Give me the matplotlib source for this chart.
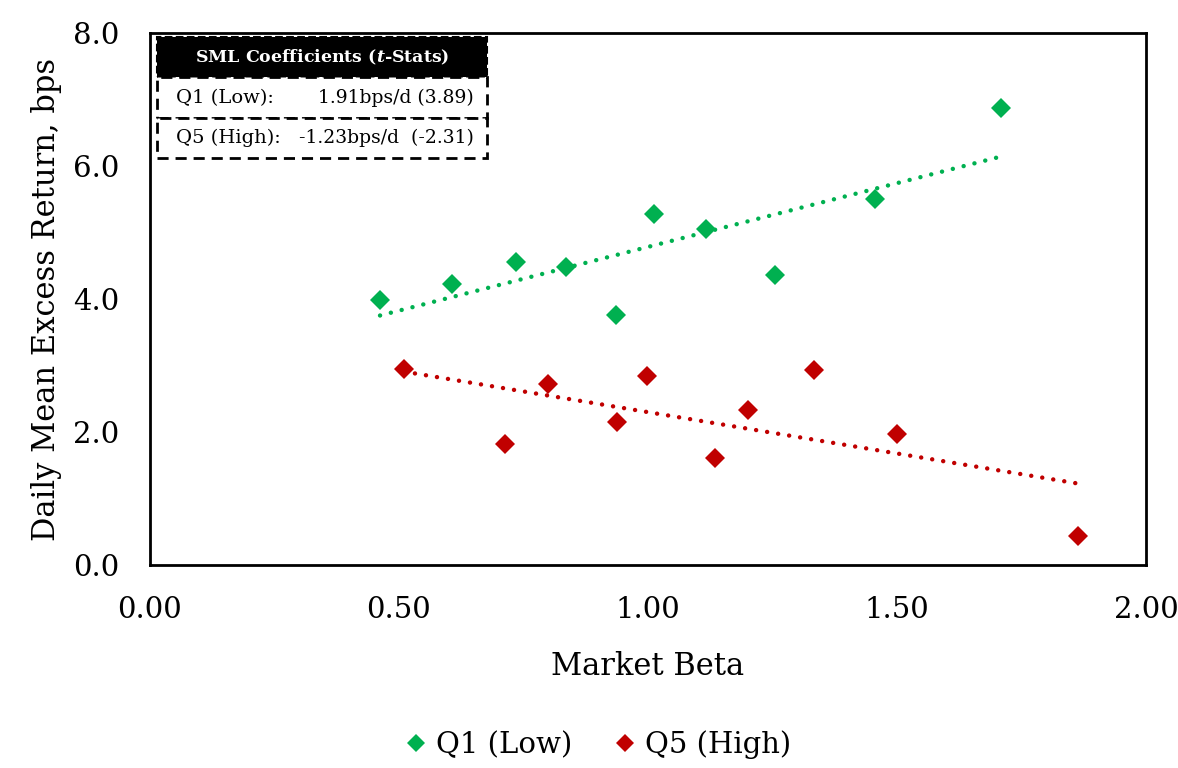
import numpy as np
import matplotlib
matplotlib.use("Agg")
import matplotlib.pyplot as plt
from matplotlib.patches import Rectangle
from matplotlib.lines import Line2D

plt.rcParams['font.family'] = 'DejaVu Serif'
plt.rcParams['mathtext.fontset'] = 'dejavuserif'

# data
q1_beta = [0.462, 0.606, 0.735, 0.835, 0.936, 1.012, 1.116, 1.255, 1.456, 1.709]
q1_ret = [3.98, 4.23, 4.56, 4.48, 3.76, 5.28, 5.05, 4.36, 5.50, 6.87]
q5_beta = [0.510, 0.713, 0.800, 0.938, 0.998, 1.135, 1.200, 1.333, 1.500, 1.863]
q5_ret = [2.95, 1.82, 2.72, 2.15, 2.84, 1.61, 2.33, 2.93, 1.97, 0.44]

x_ticks = [0.0, 0.5, 1.0, 1.5, 2.0]
y_ticks = [0.0, 2.0, 4.0, 6.0, 8.0]

table_header = r"SML Coefficients ($\mathbfit{t}$-Stats)"
table_rows = [("Q1 (Low):", "1.91bps/d (3.89)"),
              ("Q5 (High):", "-1.23bps/d  (-2.31)")]

green = '#00B050'
red = '#C00000'

fig = plt.figure(figsize=(11.78, 7.68), dpi=100)
ax = fig.add_axes([0.1273, 0.2643, 0.8455, 0.6927])

for xs, ys, c in [(q1_beta, q1_ret, green), (q5_beta, q5_ret, red)]:
    xs = np.array(xs)
    ys = np.array(ys)
    ax.plot(xs, ys, linestyle='none', marker='D', markersize=10.5,
            color=c, markeredgewidth=0, zorder=3)
    # linear trend line
    k, b = np.polyfit(xs, ys, 1)
    tx = np.array([xs.min(), xs.max()])
    ax.plot(tx, k * tx + b, color=c, linewidth=3.2,
            linestyle=(0, (0.01, 2.5)), dash_capstyle='round', zorder=2)

ax.set_xlim(0, 2.0)
ax.set_ylim(0, 8.0)
ax.set_xticks(x_ticks)
ax.set_yticks(y_ticks)
ax.set_xticklabels([f"{v:.2f}" for v in x_ticks])
ax.set_yticklabels([f"{v:.1f}" for v in y_ticks])
ax.tick_params(axis='x', length=0, labelsize=21, pad=22)
ax.tick_params(axis='y', length=0, labelsize=21, pad=22)
for s in ax.spines.values():
    s.set_linewidth(2)

ax.set_xlabel('Market Beta', fontsize=22, labelpad=20)
ax.set_ylabel('Daily Mean Excess Return, bps', fontsize=22, labelpad=8)

# coefficient table in top-left corner
tl, tr = 0.007, 0.338
ty = [0.992, 0.917, 0.840, 0.766]
ax.add_patch(Rectangle((tl, ty[1]), tr - tl, ty[0] - ty[1], transform=ax.transAxes,
                       facecolor='black', edgecolor='black', linewidth=1.5,
                       linestyle='--', zorder=4))
ax.text((tl + tr) / 2, (ty[0] + ty[1]) / 2, table_header, transform=ax.transAxes,
        color='white', fontsize=12.5, fontweight='bold', ha='center', va='center', zorder=5)
for i, (lab, val) in enumerate(table_rows):
    top, bot = ty[i + 1], ty[i + 2]
    ax.add_patch(Rectangle((tl, bot), tr - tl, top - bot, transform=ax.transAxes,
                           facecolor='white', edgecolor='black', linewidth=2,
                           linestyle=(0, (4, 2.5)), zorder=4))
    ax.text(tl + 0.019, (top + bot) / 2, lab, transform=ax.transAxes,
            fontsize=14, ha='left', va='center', zorder=5)
    ax.text(tr - 0.013, (top + bot) / 2, val, transform=ax.transAxes,
            fontsize=13.5, ha='right', va='center', zorder=5)

handles = [Line2D([], [], linestyle='none', marker='D', markersize=9, color=green,
                  markeredgewidth=0, label='Q1 (Low)'),
           Line2D([], [], linestyle='none', marker='D', markersize=9, color=red,
                  markeredgewidth=0, label='Q5 (High)')]
fig.legend(handles=handles, loc='center', bbox_to_anchor=(0.505, 0.03), ncol=2,
           frameon=False, fontsize=21, handletextpad=0.1, columnspacing=1.2,
           handlelength=1.2)

fig.savefig('out.png', dpi=100)
